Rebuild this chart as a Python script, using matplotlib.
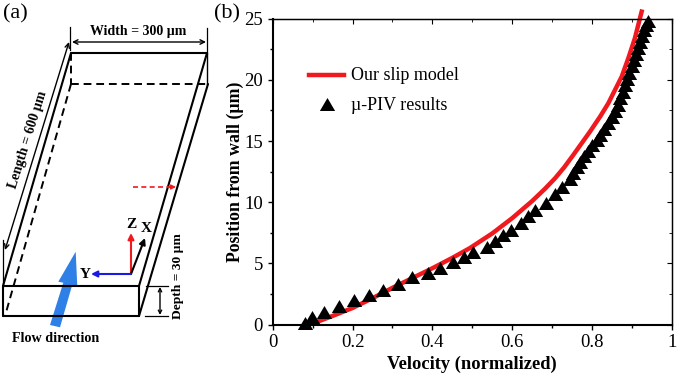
import matplotlib
matplotlib.use('Agg')
import matplotlib.pyplot as plt
from matplotlib.patches import Polygon

plt.rcParams['font.family'] = ['Liberation Serif', 'DejaVu Serif']

# mu-PIV points
piv_velocity = [0.08, 0.098, 0.129, 0.167, 0.204, 0.24, 0.275, 0.315, 0.35, 0.39, 0.42, 0.452,
                0.478, 0.502, 0.536, 0.557, 0.577, 0.598, 0.621, 0.64, 0.656, 0.684, 0.706,
                0.725, 0.745, 0.752, 0.761, 0.77, 0.779, 0.79, 0.80, 0.811, 0.82, 0.83,
                0.84, 0.85, 0.858, 0.865, 0.871, 0.877, 0.882, 0.888, 0.893, 0.899, 0.904,
                0.909, 0.914, 0.919, 0.924, 0.929, 0.934, 0.94]
piv_position = [0.15, 0.6, 1.02, 1.5, 2.0, 2.4, 2.85, 3.3, 3.85, 4.25, 4.65, 5.1,
                5.5, 5.95, 6.36, 6.85, 7.3, 7.7, 8.27, 8.87, 9.36, 9.96, 10.67,
                11.27, 11.9, 12.35, 12.85, 13.3, 13.75, 14.2, 14.65, 15.05, 15.5, 15.95,
                16.45, 16.95, 17.45, 17.95, 18.5, 19.0, 19.6, 20.1, 20.6, 21.1, 21.6,
                22.1, 22.6, 23.1, 23.6, 24.1, 24.5, 24.83]

model_velocity = [0.11, 0.15, 0.2, 0.25, 0.3, 0.35, 0.4, 0.45, 0.494, 0.55, 0.6, 0.65, 0.682, 0.707,
                  0.73, 0.7528, 0.7946, 0.82, 0.8406, 0.853, 0.874, 0.8906, 0.907, 0.924]
model_position = [0.2, 0.7, 1.35, 2.15, 3.0, 3.8, 4.6, 5.45, 6.25, 7.45, 8.7, 10.1, 11.1, 11.95,
                  12.85, 13.86, 15.77, 17.0, 18.09, 18.9, 20.26, 21.77, 23.4, 25.58]

x_ticks = [0, 0.2, 0.4, 0.6, 0.8, 1]
x_minor = [0.1, 0.3, 0.5, 0.7, 0.9]
x_tick_labels = ['0', '0.2', '0.4', '0.6', '0.8', '1']
y_ticks = [0, 5, 10, 15, 20, 25]
y_minor = [2.5, 7.5, 12.5, 17.5, 22.5]

W, H = 677, 377
RED = '#f0191e'
# triangle wider than it is tall, like the markers in the figure
TRI = [(-1, -0.85), (1, -0.85), (0, 0.85), (-1, -0.85)]
fig = plt.figure(figsize=(W / 100, H / 100), dpi=100)

# panel (b)
ax = fig.add_axes([272.7 / W, 1 - 324.5 / H, 399.3 / W, 305.8 / H])
ax.plot(model_velocity, model_position, color=RED, lw=3.2, clip_on=False, zorder=2)
ax.plot(piv_velocity, piv_position, ls='none', marker=TRI, color='black', ms=11, mew=0,
        clip_on=False, zorder=3)
ax.set_xlim(0, 1)
ax.set_ylim(0, 25)
ax.set_xticks(x_ticks)
ax.set_xticklabels(x_tick_labels)
ax.set_yticks(y_ticks)
ax.set_xticks(x_minor, minor=True)
ax.set_yticks(y_minor, minor=True)
ax.tick_params(which='major', direction='out', length=3.5, width=1, labelsize=13.5, pad=3.5)
ax.tick_params(which='minor', direction='out', length=2, width=1)
ax.spines['left'].set_linewidth(1.5)
ax.spines['bottom'].set_linewidth(1.5)
ax.spines['top'].set_linewidth(1)
ax.spines['right'].set_linewidth(1)
ax.set_xlabel('Velocity (normalized)', fontsize=13.3, fontweight='bold', labelpad=3)
ax.set_ylabel('Position from wall (µm)', fontsize=12.8, fontweight='bold', labelpad=0)

# top/right ticks point inward
top = ax.secondary_xaxis('top')
top.set_xticks(x_ticks)
top.set_xticks(x_minor, minor=True)
top.tick_params(which='major', direction='in', length=3.5, labeltop=False)
top.tick_params(which='minor', direction='in', length=2)
right = ax.secondary_yaxis('right')
right.set_yticks(y_ticks)
right.set_yticks(y_minor, minor=True)
right.tick_params(which='major', direction='in', length=3.5, labelright=False)
right.tick_params(which='minor', direction='in', length=2)

# overlay in pixel coordinates for the schematic and legend
ov = fig.add_axes([0, 0, 1, 1])
ov.set_xlim(0, W)
ov.set_ylim(H, 0)
ov.axis('off')
ov.patch.set_alpha(0)

# legend
ov.plot([309, 344], [75, 75], color=RED, lw=3.2)
ov.plot([327], [104], ls='none', marker=TRI, color='black', ms=11, mew=0)
ov.text(351, 75, 'Our slip model', fontsize=13, va='center')
ov.text(351, 105, 'µ-PIV results', fontsize=13, va='center')

# channel outline
solid = [((71, 53), (207, 53)), ((71, 53), (3, 286)), ((207, 53), (139, 286)), ((208, 84), (139, 316)),
         ((3, 286), (139, 286)), ((3, 316), (139, 316)), ((3, 286), (3, 316)), ((139, 286), (139, 316))]
for a, b in solid:
    ov.plot([a[0], b[0]], [a[1], b[1]], color='black', lw=1.5, solid_capstyle='round')
ov.plot([207, 207], [53, 84], color='black', lw=1)
for a, b in [((71, 53), (71, 84)), ((71, 84), (207, 84)), ((71, 84), (5, 316))]:
    ov.plot([a[0], b[0]], [a[1], b[1]], color='black', lw=1.4, ls=(0, (4, 2.5)))

# dimension lines
for a, b in [((70, 27), (70, 50)), ((207, 28), (207, 53)), ((3, 240), (3, 286)),
             ((146, 286), (168, 286)), ((145, 316), (168, 316))]:
    ov.plot([a[0], b[0]], [a[1], b[1]], color='black', lw=0.9)


def arrow(p0, p1, color='black', lw=1.0, style='->', scale=8):
    ov.annotate('', xy=p1, xytext=p0,
                arrowprops=dict(arrowstyle=style, color=color, lw=lw, shrinkA=0, shrinkB=0,
                                mutation_scale=scale))


arrow((72, 42), (206, 42), style='<->')
arrow((69, 42), (5, 250), style='<->')
arrow((160, 287), (160, 315), style='<->', scale=6)
ov.plot([133, 170], [187, 187], color=RED, lw=1.2, ls=(0, (3, 2)))
arrow((168, 187), (176, 187), color=RED, style='-|>', scale=7)

# coordinate axes
arrow((131, 274), (131, 233), color=RED, lw=1.5, style='-|>', scale=9)
arrow((131, 274), (145, 238), lw=1.5, style='-|>', scale=9)
arrow((131, 274), (91, 274), color='#1a1ae6', lw=1.5, style='-|>', scale=9)

# flow arrow
ov.add_patch(Polygon([(50, 325), (60, 327.3), (71.7, 286.7), (77.3, 286.7), (75.7, 251.7),
                      (58.3, 281.7), (63.3, 282.7)], closed=True, color='#2f80e6', lw=0))

bold = dict(fontweight='bold', ha='center', va='center')
ov.text(138, 32, 'Width = 300 µm', fontsize=10, **bold)
ov.text(28, 140, 'Length = 600 µm', fontsize=10, rotation=72.5, **bold)
ov.text(178, 276, 'Depth = 30 µm', fontsize=9.7, rotation=90, **bold)
ov.text(55.5, 338, 'Flow direction', fontsize=10.2, **bold)
ov.text(131.5, 225, 'Z', fontsize=11, **bold)
ov.text(146, 229, 'X', fontsize=11, **bold)
ov.text(85, 275, 'Y', fontsize=11, **bold)
ov.text(15.5, 14, '(a)', fontsize=16, ha='center', va='center')
ov.text(227, 14, '(b)', fontsize=16, ha='center', va='center')

fig.savefig('out.png', dpi=100)
